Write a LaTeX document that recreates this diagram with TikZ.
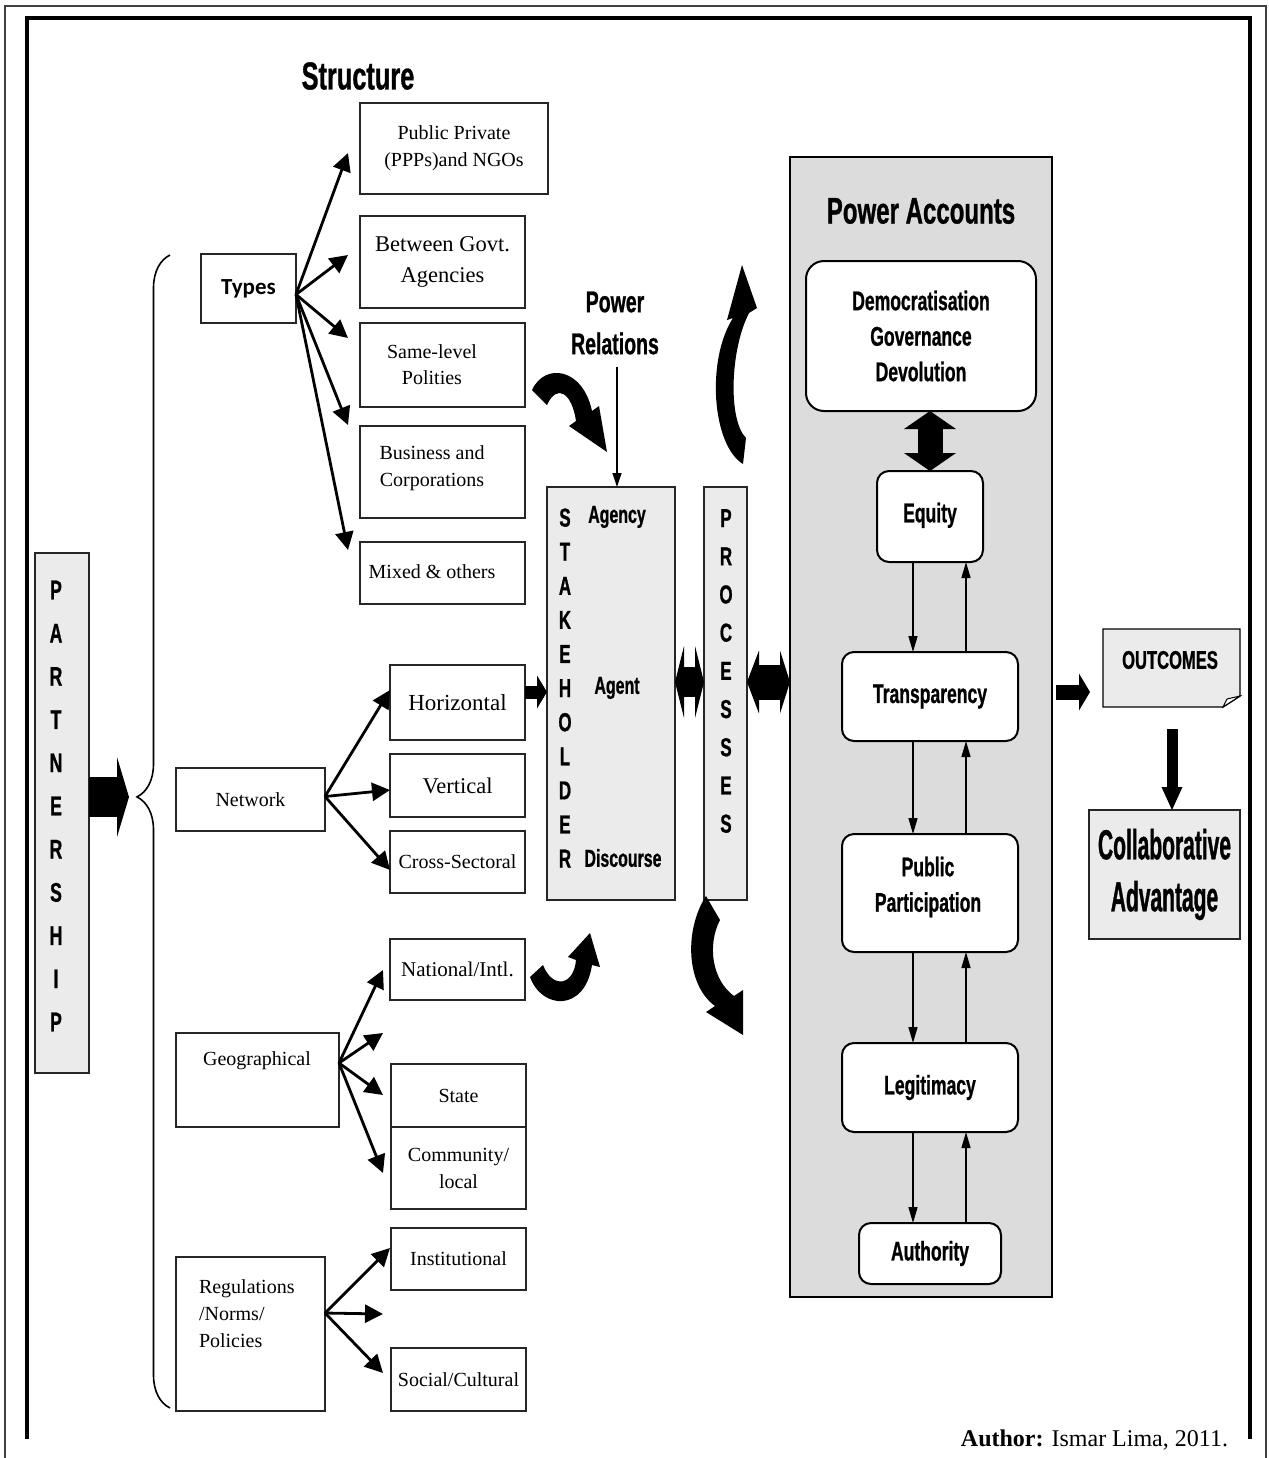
\documentclass[tikz,border=0pt]{standalone}
\usepackage{fontspec}
\setmainfont{Liberation Serif}
\newfontfamily\condfont[FakeStretch=0.65,FakeBold=0.8]{Liberation Sans}
\newfontfamily\xcondfont[FakeStretch=0.5,FakeBold=0.8]{Liberation Sans}
\newfontfamily\typefont{Carlito}
\usetikzlibrary{arrows.meta,calc,decorations.pathreplacing}
\definecolor{lightfill}{HTML}{EBEBEB}
\definecolor{panelfill}{HTML}{DCDCDC}
\newcommand\setfs[2]{\fontsize{#1}{#2}\selectfont}
\newcommand\cb{\condfont\bfseries}
% box given by its corners: name, x1, y1, x2, y2, style, text
\newcommand\mkbox[7]{%
  \node[#6, minimum width={(#4-#2)*0.5pt}, minimum height={(#5-#3)*0.5pt}]
    (#1) at ({(#2+#4)/2},{(#3+#5)/2}) {#7};}

\begin{document}
\begin{tikzpicture}[x=0.5pt, y=-0.5pt,
  sbox/.style={draw=black!85, line width=0.7pt, fill=white, inner sep=0pt,
    outer sep=0pt, align=center, font=\setfs{10}{13.5}},
  gbox/.style={sbox, fill=lightfill},
  panel/.style={draw, line width=1pt, fill=panelfill, inner sep=0pt, outer sep=0pt},
  rbox/.style={draw, line width=1pt, fill=white, rounded corners=6pt, inner sep=0pt,
    outer sep=0pt, align=center, font=\cb\setfs{13.5}{17.75}},
  lbl/.style={inner sep=0pt, outer sep=0pt, align=center},
  link/.style={line width=1.4pt, -{Triangle[length=9pt,width=9pt]}},
  slim/.style={line width=0.7pt, -{Triangle[length=8pt,width=4.5pt]}},
  curly/.style={line width=0.8pt, decorate,
    decoration={brace, amplitude=16.5pt, aspect=0.53}},
  blob/.style={line width=#1, line cap=butt},
]
\useasboundingbox (0,0) rectangle (1269,1458);

% page frames
\draw[line width=1pt, black!75] (5,1470) -- (5,6) -- (1266,6) -- (1266,1470);
\draw[line width=1.6pt] (27,1439) -- (27,18) -- (1250,18) -- (1250,1439);

% ---------- structure column ----------
\node[lbl, font=\cb\setfs{19.5}{22}] (structure) at (358,76) {Structure};

\mkbox{types}{201}{254}{296}{323}{sbox, font=\typefont\bfseries\setfs{11.5}{14}}{Types}
\mkbox{ppp}{360}{103}{548}{194}{sbox}{Public Private\\(PPPs)and NGOs}
\mkbox{gov}{360}{216}{525}{308}{sbox, font=\setfs{11.25}{15.5}}{Between Govt.\\Agencies}
\mkbox{same}{360}{323}{525}{407}{sbox}{}
\node[lbl, font=\setfs{10}{13}] (same-t) at (432,365) {Same-level\\Polities};
\mkbox{biz}{360}{426}{525}{518}{sbox}{}
\node[lbl, font=\setfs{10}{13.5}] (biz-t) at (432,468) {Business and\\Corporations};
\mkbox{mixed}{360}{542}{525}{604}{sbox}{}
\node[lbl, font=\setfs{10}{13.5}] (mixed-t) at (432,572) {Mixed \& others};

\coordinate (ty1) at (348,153);
\coordinate (ty2) at (348,255);
\coordinate (ty3) at (348,338);
\coordinate (ty4) at (348,425);
\coordinate (ty5) at (348,550);
\foreach \t in {ty1,ty2,ty3,ty4,ty5}
  \draw[link] ([yshift=-3pt]types.east) -- (\t);

\mkbox{net}{176}{768}{325}{831}{sbox}{Network}
\mkbox{hor}{390}{665}{525}{740}{sbox, font=\setfs{11.5}{14}}{Horizontal}
\mkbox{ver}{390}{754}{525}{817}{sbox, font=\setfs{11.25}{14}}{Vertical}
\mkbox{cross}{390}{831}{525}{893}{sbox}{Cross-Sectoral}
\coordinate (nw1) at (390,690);
\coordinate (nw2) at (390,790);
\coordinate (nw3) at (390,870);
\foreach \t in {nw1,nw2,nw3}
  \draw[link] ([yshift=1.5pt]net.east) -- (\t);

\mkbox{geo}{176}{1033}{339}{1127}{sbox}{}
\node[lbl] (geo-t) at (257,1061) {Geographical};
\mkbox{natl}{390}{939}{525}{1000}{sbox, font=\setfs{10.5}{13}}{National/Intl.}
\mkbox{state}{391}{1064}{526}{1127}{sbox}{State}
\mkbox{comm}{391}{1127}{526}{1209}{sbox}{Community/\\local}
\coordinate (gg1) at (383,970);
\coordinate (gg2) at (383,1033);
\coordinate (gg3) at (383,1095);
\coordinate (gg4) at (383,1173);
\foreach \t in {gg1,gg2,gg3,gg4}
  \draw[link] ([yshift=8.5pt]geo.east) -- (\t);

\mkbox{reg}{176}{1257}{325}{1411}{sbox}{}
\node[lbl, anchor=west, align=left, font=\setfs{10}{13.5}] (reg-t) at (199,1314)
  {Regulations\\/Norms/\\Policies};
\mkbox{inst}{391}{1228}{526}{1290}{sbox}{Institutional}
\mkbox{soc}{391}{1348}{526}{1411}{sbox}{Social/Cultural}
\coordinate (rg1) at (390,1248);
\coordinate (rg2) at (383,1314);
\coordinate (rg3) at (383,1373);
\foreach \t in {rg1,rg2,rg3}
  \draw[link] ([yshift=10.5pt]reg.east) -- (\t);

% ---------- partnership ----------
\mkbox{part}{35}{553}{89}{1073}{gbox}{}
\node[lbl, font=\cb\setfs{13.5}{21.6}] (part-t) at (56,806)
  {P\\A\\R\\T\\N\\E\\R\\S\\H\\I\\P};
\draw[curly] (170,1408) -- (170,255);
\coordinate (brtip) at (129,797);
\draw[blob=20pt, -{Triangle[length=6pt,width=40pt,line width=0pt]}]
  (part.east |- brtip) -- (brtip);

% ---------- stakeholder and processes ----------
\mkbox{stake}{547}{487}{675}{900}{gbox}{}
\node[lbl, font=\cb\setfs{13}{17.05}] (stake-t) at (565,688)
  {S\\T\\A\\K\\E\\H\\O\\L\\D\\E\\R};
\node[lbl, font=\cb\setfs{12.25}{14}] (agency) at (617,517) {Agency};
\node[lbl, font=\cb\setfs{12.25}{14}] (agent) at (617,688) {Agent};
\node[lbl, font=\cb\setfs{12.25}{14}] (disc) at (623,858) {Discourse};

\mkbox{proc}{704}{487}{747}{900}{gbox}{}
\node[lbl, font=\cb\setfs{13}{19.1}] (proc-t) at (726,671)
  {P\\R\\O\\C\\E\\S\\S\\E\\S};

\node[lbl, font=\cb\setfs{15}{21}] (prel) at (615,323) {Power\\Relations};
\coordinate (prtop) at (617,367);
\draw[line width=0.6pt, -{Triangle[length=7pt,width=4.5pt]}] (prtop) -- (stake.north -| prtop);

\coordinate (rowH) at (0,692);
\draw[blob=6.5pt, -{Triangle[length=5pt,width=16.5pt,line width=0pt]}]
  (hor.east |- rowH) -- (stake.west |- rowH);

\coordinate (rowA) at (0,682);

% ---------- power accounts ----------
\mkbox{pa}{790}{157}{1052}{1297}{panel}{}
\node[lbl, font=\cb\setfs{18.5}{20}] (pa-t) at (921,211) {Power Accounts};

\draw[blob=15pt, {Triangle[length=4.5pt,width=36pt,line width=0pt]}-{Triangle[length=4.5pt,width=36pt,line width=0pt]}]
  (stake.east |- rowA) -- (proc.west |- rowA);
\draw[blob=17.5pt, {Triangle[length=6pt,width=31.5pt,line width=0pt]}-{Triangle[length=5pt,width=31.5pt,line width=0pt]}]
  (proc.east |- rowA) -- (pa.west |- rowA);

\mkbox{dem}{806}{261}{1036}{411}{rbox, rounded corners=9pt}{Democratisation\\Governance\\Devolution}
\mkbox{eq}{877}{471}{983}{562}{rbox}{\raisebox{4pt}{Equity}}
\mkbox{tra}{842}{652}{1018}{741}{rbox}{\raisebox{2pt}{Transparency}}
\mkbox{pp}{842}{834}{1018}{952}{rbox}{}
\node[lbl, font=\cb\setfs{13.5}{17.75}] (pp-t) at (928,887) {Public\\Participation};
\mkbox{leg}{842}{1043}{1018}{1132}{rbox}{\raisebox{2pt}{Legitimacy}}
\mkbox{aut}{859}{1223}{1001}{1284}{rbox}{Authority}

\draw[blob=12.5pt, {Triangle[length=9pt,width=26pt,line width=0pt]}-{Triangle[length=9pt,width=26pt,line width=0pt]}]
  (eq.north |- dem.south) -- (eq.north);

\coordinate (dnx) at (913,0);
\coordinate (upx) at (966,0);
\foreach \a/\b in {eq/tra, tra/pp, pp/leg, leg/aut} {
  \draw[slim] (\a.south -| dnx) -- (\b.north -| dnx);
  \draw[slim] (\b.north -| upx) -- (\a.south -| upx);
}

% ---------- outcomes ----------
\filldraw[fill=lightfill, line width=0.7pt]
  (1103,629) -- (1240,629) -- (1240,696) -- (1223,707) -- (1103,707) -- cycle;
\filldraw[fill=white, line width=0.5pt] (1223,707) -- (1227,699) -- (1240,696) -- cycle;
\node[lbl, font=\cb\setfs{12.75}{14}] (outc) at (1170,660) {OUTCOMES};

\coordinate (oa) at (1056,692);
\coordinate (ob) at (1090,692);
\draw[blob=7.5pt, -{Triangle[length=5.5pt,width=18.5pt,line width=0pt]}] (oa) -- (ob);

\mkbox{collab}{1089}{810}{1240}{939}{gbox, font=\xcondfont\bfseries\setfs{21}{26}}{Collaborative\\Advantage}
\coordinate (cd) at (1172,729);
\draw[blob=5.5pt, -{Triangle[length=11.5pt,width=10.5pt,line width=0pt]}]
  (cd) -- (collab.north -| cd);

% ---------- curved block arrows (tapered bands with heads) ----------
\fill (532,390) .. controls (545,362) and (583,368) .. (592,411)
  -- (599,406) -- (607,452) -- (569,426) -- (576,421)
  .. controls (572,393) and (557,383) .. (547,405) -- cycle;
\fill (743,464) .. controls (712,445) and (706,360) .. (733,318)
  -- (727,320) -- (742,265) -- (757,308) -- (749,313)
  .. controls (730,350) and (728,420) .. (746,438) -- cycle;
\fill (530,977) .. controls (542,1010) and (585,1012) .. (592,965)
  -- (600,967) -- (590,933) -- (568,957) -- (576,960)
  .. controls (574,985) and (553,990) .. (543,965) -- cycle;
\fill (706,896) .. controls (684,930) and (686,985) .. (715,1006)
  -- (706,1012) -- (743,1035) -- (743,990) -- (734,996)
  .. controls (712,980) and (707,945) .. (720,920) -- cycle;

% ---------- credit ----------
\node[lbl, anchor=east, font=\setfs{12}{14}] (author) at (1228,1440)
  {\textbf{Author:} Ismar Lima, 2011.};
\end{tikzpicture}
\end{document}
